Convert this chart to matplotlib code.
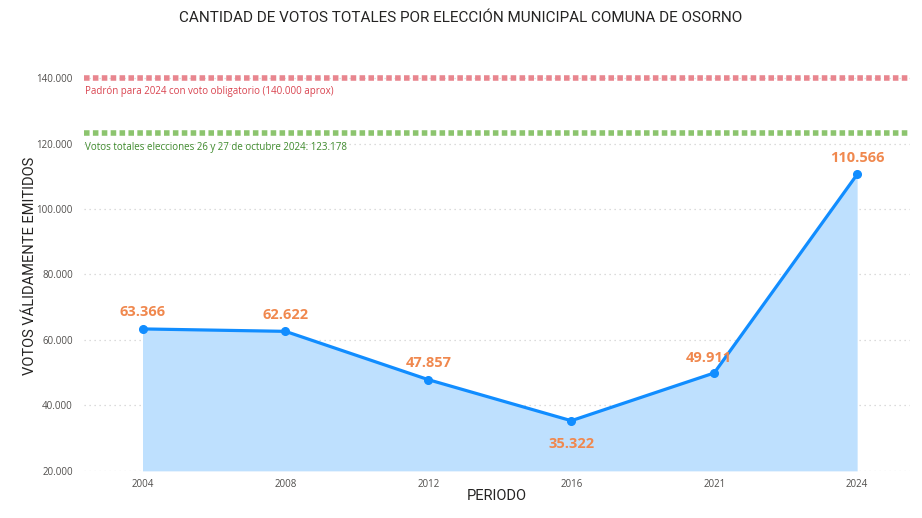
import matplotlib.pyplot as plt
from matplotlib.ticker import FuncFormatter

# datos
periodos = ['2004', '2008', '2012', '2016', '2021', '2024']
votos = [63366, 62622, 47857, 35322, 49911, 110566]
padron_2024 = 140000
votos_totales_2024 = 123178
ticks_y = [20000, 40000, 60000, 80000, 100000, 120000, 140000]

plt.rcParams['font.family'] = ['Open Sans', 'DejaVu Sans']

def miles(v, pos=None):
    return f'{int(v):,}'.replace(',', '.')

fig = plt.figure(figsize=(9.22, 5.18), dpi=100, facecolor='white')
ax = fig.add_axes([0.091, 0.091, 0.896, 0.793])

x = range(len(periodos))
ax.fill_between(x, votos, 20000, color='#BEE0FE', linewidth=0)
ax.plot(x, votos, color='#118DFF', linewidth=2.3, marker='o', markersize=5.5, zorder=3)

# etiquetas de datos
for i, v in enumerate(votos):
    if periodos[i] == '2016':
        ax.annotate(miles(v), (i, v), xytext=(0, -12), textcoords='offset points',
                    ha='center', va='top', color='#F0884E', fontsize=10.5, fontweight='bold')
    elif periodos[i] == '2021':
        ax.annotate(miles(v), (i, v), xytext=(-4, 6), textcoords='offset points',
                    ha='center', va='bottom', color='#F0884E', fontsize=10.5, fontweight='bold')
    else:
        ax.annotate(miles(v), (i, v), xytext=(0, 7), textcoords='offset points',
                    ha='center', va='bottom', color='#F0884E', fontsize=10.5, fontweight='bold')

# lineas de referencia
ax.axhline(padron_2024, color='#E8868F', linewidth=4, linestyle=(0, (1, 0.6)), zorder=2)
ax.axhline(votos_totales_2024, color='#8CC46E', linewidth=4, linestyle=(0, (1, 0.6)), zorder=2)
ax.text(-0.4, padron_2024 - 2500, 'Padrón para 2024 con voto obligatorio (140.000 aprox)',
        color='#D9434F', fontsize=7, va='top', ha='left')
ax.text(-0.4, votos_totales_2024 - 2800, 'Votos totales elecciones 26 y 27 de octubre 2024: 123.178',
        color='#3E8A2C', fontsize=7, va='top', ha='left')

ax.set_xlim(-0.41, 5.37)
ax.set_ylim(20000, 145500)
ax.set_xticks(list(x))
ax.set_xticklabels(periodos)
ax.set_yticks(ticks_y)
ax.yaxis.set_major_formatter(FuncFormatter(miles))
ax.tick_params(axis='both', length=0, labelsize=7, labelcolor='#504E4C')
ax.tick_params(axis='y', pad=8)
ax.tick_params(axis='x', pad=6)
ax.grid(axis='y', color='#D0D0D0', linestyle=(0, (1, 3)), linewidth=0.9)
ax.set_axisbelow(True)
for s in ax.spines.values():
    s.set_visible(False)

ax.set_xlabel('PERIODO', fontsize=10.5, color='#252423', family=['Roboto', 'DejaVu Sans'])
ax.xaxis.set_label_coords(0.5, -0.045)
ax.set_ylabel('VOTOS VÁLIDAMENTE EMITIDOS', fontsize=10.5, color='#252423',
              family=['Roboto', 'DejaVu Sans'])
ax.yaxis.set_label_coords(-0.057, 0.5)
fig.text(0.5, 0.965, 'CANTIDAD DE VOTOS TOTALES POR ELECCIÓN MUNICIPAL COMUNA DE OSORNO',
         ha='center', va='center', fontsize=11, color='#252423', family=['Roboto', 'DejaVu Sans'])

plt.savefig('out.png', dpi=100, facecolor='white')
